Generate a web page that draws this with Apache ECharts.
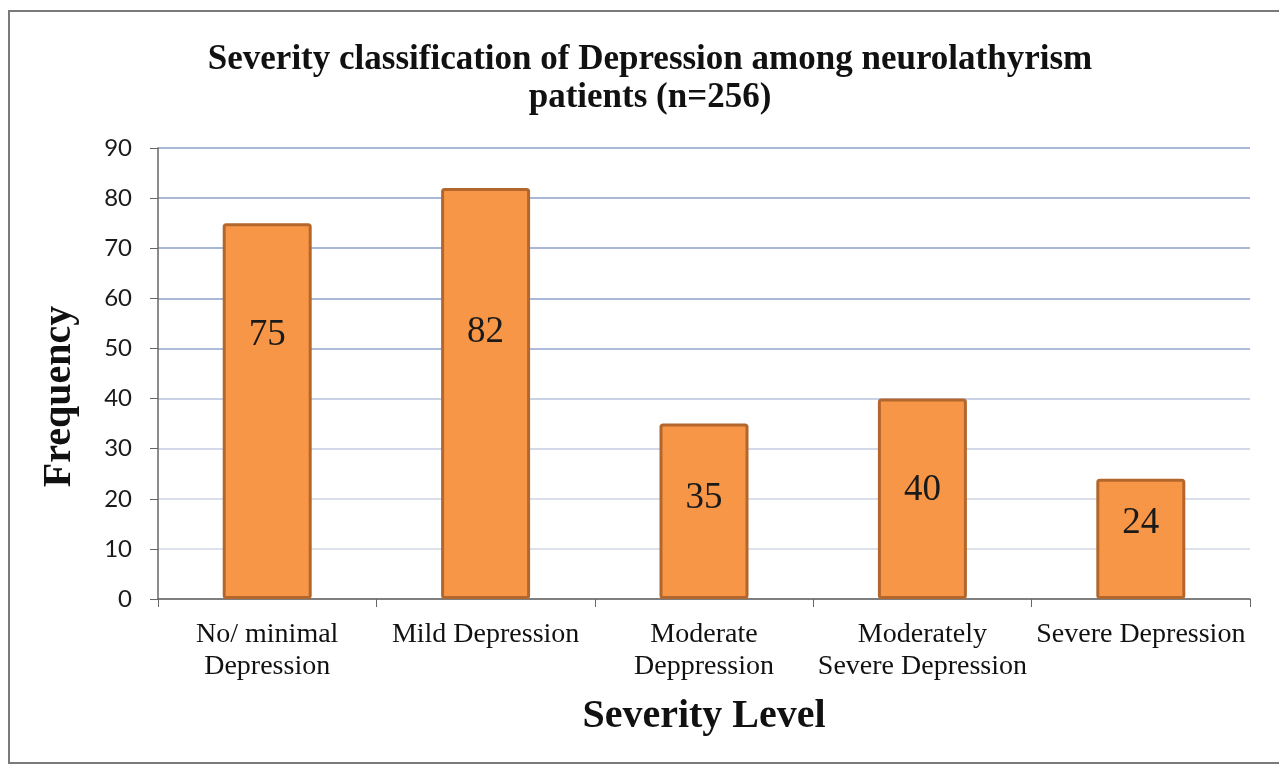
<!DOCTYPE html>
<html>
<head>
<meta charset="utf-8">
<style>
  html, body { margin: 0; padding: 0; background: #ffffff; }
  #chart { width: 1279px; height: 769px; }
</style>
<script src="https://cdn.jsdelivr.net/npm/echarts@6/dist/echarts.min.js"></script>
</head>
<body>
<div id="chart"></div>
<script>
// Severity categories (x axis) and patient counts per category
const categories = [
  'No/ minimal\nDepression',
  'Mild Depression',
  'Moderate\nDeppression',
  'Moderately\nSevere Depression',
  'Severe Depression'
];
const frequencies = [75, 82, 35, 40, 24];

// Y axis ticks
const yMin = 0;
const yMax = 90;
const yStep = 10;

// Vertical nudge of each value label from the bar centre (styling only)
const labelShift = [-76, -61, -13, -8, -16];

const serif = '"Liberation Serif", "Times New Roman", serif';

const chart = echarts.init(document.getElementById('chart'), null, { renderer: 'canvas' });

chart.setOption({
  backgroundColor: '#ffffff',
  animation: false,
  title: {
    text: 'Severity classification of Depression among neurolathyrism\npatients (n=256)',
    left: 645,
    textAlign: 'center',
    top: 36,
    textStyle: {
      fontFamily: serif,
      fontWeight: 'bold',
      fontSize: 35,
      lineHeight: 38,
      color: '#111111'
    }
  },
  graphic: [
    {
      type: 'rect',
      shape: { x: 9, y: 11, width: 1300, height: 752 },
      style: { fill: 'none', stroke: '#7a7a7a', lineWidth: 2 },
      silent: true,
      z: 0
    }
  ],
  grid: { left: 158, right: 29, top: 148, bottom: 170, containLabel: false },
  xAxis: {
    type: 'category',
    data: categories,
    name: 'Severity Level',
    nameLocation: 'middle',
    nameGap: 98,
    nameTextStyle: {
      fontFamily: serif,
      fontWeight: 'bold',
      fontSize: 40,
      color: '#111111'
    },
    axisLine: { lineStyle: { color: '#666666', width: 1.5 } },
    axisTick: { show: true, length: 8, lineStyle: { color: '#666666' } },
    axisLabel: {
      fontFamily: serif,
      fontSize: 28,
      lineHeight: 32,
      color: '#111111',
      margin: 20,
      interval: 0
    }
  },
  yAxis: {
    type: 'value',
    min: yMin,
    max: yMax,
    interval: yStep,
    name: 'Frequency',
    nameLocation: 'middle',
    nameGap: 78,
    nameTextStyle: {
      fontFamily: serif,
      fontWeight: 'bold',
      fontSize: 40,
      color: '#111111',
      padding: [0, 46, 0, 0]
    },
    axisLine: { show: true, lineStyle: { color: '#666666', width: 1.5 } },
    axisTick: { show: true, length: 8, lineStyle: { color: '#666666' } },
    axisLabel: {
      fontFamily: 'Lato, "Open Sans", sans-serif',
      fontSize: 24,
      color: '#1a1a1a',
      margin: 26
    },
    splitLine: {
      show: true,
      lineStyle: {
        width: 2,
        color: ['#cccccc', '#dde1ea', '#dadfea', '#d3d9e8', '#c9d1e6',
                '#aebbd9', '#aab8d8', '#aab8d8', '#aab8d8', '#aab8d8']
      }
    }
  },
  series: [
    {
      type: 'bar',
      data: frequencies.map((v, i) => ({
        value: v,
        label: { offset: [0, labelShift[i]] }
      })),
      barWidth: 89,
      itemStyle: {
        color: '#f79646',
        borderColor: '#b4672d',
        borderWidth: 3,
        borderRadius: 2
      },
      label: {
        show: true,
        position: 'inside',
        fontFamily: serif,
        fontSize: 37,
        color: '#1a1a1a'
      }
    }
  ]
});
</script>
</body>
</html>
